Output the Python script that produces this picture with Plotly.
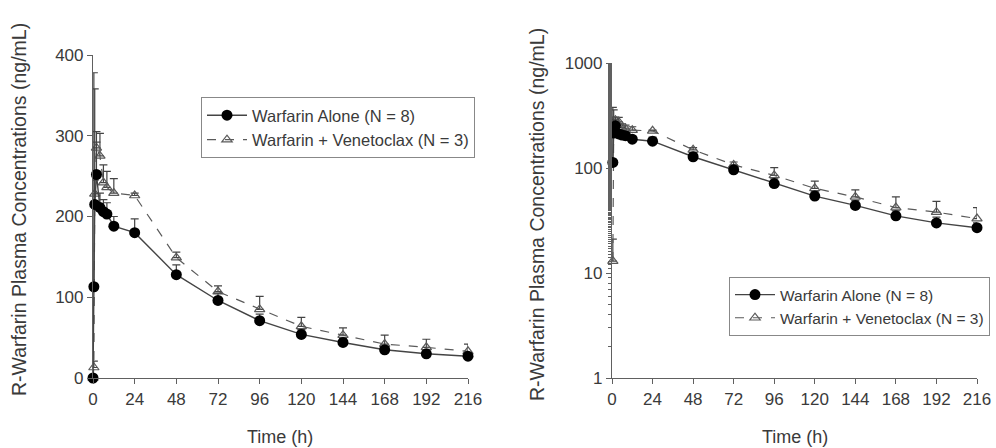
import plotly.graph_objects as go

# Sampling times (h) and mean R-warfarin concentrations (ng/mL)
times = [0, 0.5, 1, 2, 4, 6, 8, 12, 24, 48, 72, 96, 120, 144, 168, 192, 216]
alone_mean = [0, 113, 215, 252, 211, 206, 203, 188, 180, 128, 96, 71, 54, 44, 35, 30, 27]
alone_sd = [0, 265, 30, 40, 18, 15, 14, 12, 17, 12, 9, 8, 6, 5, 4, 4, 3]
ven_mean = [0, 13, 228, 285, 275, 242, 236, 229, 226, 149, 107, 85, 64, 53, 42, 38, 33]
ven_sd = [0, 8, 130, 20, 28, 22, 20, 18, 3, 7, 7, 16, 11, 9, 11, 10, 9]

x_ticks = [0, 24, 48, 72, 96, 120, 144, 168, 192, 216]
lin_ticks = [0, 100, 200, 300, 400]
log_ticks = [1, 10, 100, 1000]

name_alone = "Warfarin Alone (N = 8)"
name_ven = "Warfarin + Venetoclax (N = 3)"
y_title = "R-Warfarin Plasma Concentrations (ng/mL)"
x_title = "Time (h)"

W, H = 996, 448
FONT = "Liberation Sans, Arial, sans-serif"
TXT = "#3a3a3a"
AX = "#606060"


def px(x):
    return x / W


def py(y):
    return 1 - y / H


def positive(vals):
    # zero concentrations cannot be shown on a log axis
    return [v if v > 0 else None for v in vals]


fig = go.Figure()

panels = (
    ("x", "y", "legend", ven_mean, alone_mean),
    ("x2", "y2", "legend2", positive(ven_mean), positive(alone_mean)),
)

for xa, ya, leg, ven_y, alone_y in panels:
    fig.add_trace(go.Scatter(
        x=times, y=ven_y, name=name_ven, xaxis=xa, yaxis=ya, legend=leg,
        mode="lines+markers", cliponaxis=False,
        line=dict(color="#5a5a5a", width=1.2, dash="dash"),
        marker=dict(symbol="triangle-up-open", size=9, color="#5a5a5a",
                    line=dict(width=1.2)),
        error_y=dict(type="data", array=ven_sd, arrayminus=[0] * len(ven_sd),
                     symmetric=False, color="#444444", thickness=1.2, width=4),
    ))
    fig.add_trace(go.Scatter(
        x=times, y=alone_y, name=name_alone, xaxis=xa, yaxis=ya, legend=leg,
        mode="lines+markers", cliponaxis=False,
        line=dict(color="#444444", width=1.4),
        marker=dict(symbol="circle", size=11, color="#000000"),
        error_y=dict(type="data", array=alone_sd, arrayminus=[0] * len(alone_sd),
                     symmetric=False, color="#444444", thickness=1.2, width=4),
    ))

axis_common = dict(
    showline=True, linecolor=AX, linewidth=1.2, ticks="outside", ticklen=5,
    tickcolor=AX, tickwidth=1.2, showgrid=False, zeroline=False, automargin=False,
    tickfont=dict(family=FONT, size=17, color=TXT),
)

legend_common = dict(
    xanchor="left", yanchor="top", bordercolor="#888888", borderwidth=1,
    bgcolor="white", traceorder="reversed", itemwidth=40,
)

fig.update_layout(
    width=W, height=H, margin=dict(l=0, r=0, t=0, b=0, autoexpand=False),
    paper_bgcolor="white", plot_bgcolor="white",
    font=dict(family=FONT, color=TXT),
    xaxis=dict(domain=[px(93), px(468)], range=[0, 216], tickvals=x_ticks,
               anchor="y", **axis_common),
    yaxis=dict(domain=[py(378), py(55)], range=[0, 400], tickvals=lin_ticks,
               anchor="x", **axis_common),
    xaxis2=dict(domain=[px(612), px(977)], range=[0, 216], tickvals=x_ticks,
                anchor="y2", **axis_common),
    yaxis2=dict(domain=[py(378), py(63)], type="log", range=[0, 3],
                tickvals=log_ticks, ticktext=[str(v) for v in log_ticks],
                anchor="x2",
                minor=dict(ticks="outside", ticklen=3, tickcolor=AX, showgrid=False),
                **axis_common),
    legend=dict(x=px(201), y=py(97), font=dict(family=FONT, size=16.5, color=TXT),
                **legend_common),
    legend2=dict(x=px(729), y=py(277), font=dict(family=FONT, size=15.5, color=TXT),
                 **legend_common),
)

# Axis titles placed as paper annotations
for xc, yc in ((280, 437), (795, 437)):
    fig.add_annotation(x=px(xc), y=py(yc), xref="paper", yref="paper",
                       text=x_title, showarrow=False,
                       font=dict(family=FONT, size=18, color=TXT),
                       xanchor="center", yanchor="middle")
for xc, yc in ((19, 210), (537, 215)):
    fig.add_annotation(x=px(xc), y=py(yc), xref="paper", yref="paper",
                       text=y_title, showarrow=False, textangle=-90,
                       font=dict(family=FONT, size=19.5, color=TXT),
                       xanchor="center", yanchor="middle")

fig.write_html("out.html")
